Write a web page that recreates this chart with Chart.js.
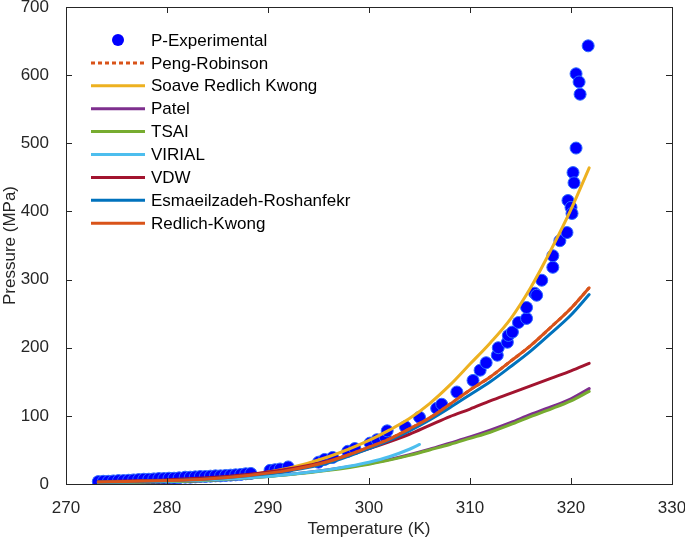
<!DOCTYPE html>
<html>
<head>
<meta charset="utf-8">
<script src="https://cdn.jsdelivr.net/npm/chart.js@4.4.1/dist/chart.umd.min.js"></script>
<style>
html,body{margin:0;padding:0;background:#fff;}
#wrap{width:685px;height:543px;position:relative;}
</style>
</head>
<body>
<div id="wrap"><canvas id="c" width="685" height="543"></canvas></div>
<script>
// ---- Data ----
const expT = [273.2,273.7,274.2,274.7,275.2,275.7,276.2,276.7,277.2,277.7,278.2,278.7,279.2,279.7,280.2,280.7,281.2,281.8,282.3,282.8,283.3,283.8,284.3,284.8,285.3,285.8,286.3,286.8,287.3,287.8,288.3,
  290.2,290.7,291.2,292.0,295.0,295.6,296.4,297.9,298.6,300.1,300.8,301.6,301.8,303.6,305.0,306.7,307.2,308.7,310.3,311.0,311.6,312.7,312.8,313.7,313.8,314.2,314.8,315.6,315.6,316.4,316.6,317.1,318.2,318.2,318.9,319.6,319.7,320.0,320.1,320.2,320.3,320.5,320.5,320.8,320.9,321.7];
const expP = [3.5,4,4,4.5,5,5,5.5,6,6.5,7,7,7.5,8,8,8.5,8.5,9,10,10,10.5,11,11,11.5,12,12,12.5,13,13.5,14,15,15.5,
  20,21,22,25,32,36,39,48,52,60,65,69,78,84,98,111,117,135,152,167,178,189,200,208,218,223,237,243,259,280,277,299,318,335,357,369,416,406,397,457,442,493,602,590,572,643];

const modelT = [273.2,276,280,284,288,292,296,300,302,304,306,308,310,312,314,316,318,320,321.8];
const pengRobinson = [3,3.5,5,7.5,12.5,20,33,54,66,81,97,117,138,157,180,203,230,258,288];
const soaveRK      = [3,3.5,5,8,13,23,40,64,79,96,118,145,176,207,242,288,343,403,464];
const patel        = [2,2.6,3.5,5.5,9,14,21,30,36,43,51,60,69,79,90,102,113,125,140];
const tsai         = [2,2.5,3.4,5.3,8.7,13.5,20,29,35,42,50,58,67,76,87,99,110,122,136];
const vdw          = [3.5,4.5,6,9,14,22,34,52,62,73,86,99,110,122,133,144,155,166,177];
const esmaeilzadeh = [3,3.4,4.8,7.3,12,19,31,52,64,78,94,112,131,150,172,195,221,248,278];
const redlichKwong = [3,3.5,5,7.5,12.5,20,33,54,66,81,97,117,138,157,180,203,230,258,288];

const virialT = [273.2,276,280,284,288,292,296,298,300,302,304,305];
const virial  = [2.5,3,4,6,9,14,21,26,32,40,51,58];

const xTicks = [270,280,290,300,310,320,330];
const yTicks = [0,100,200,300,400,500,600,700];

// ---- helpers ----
const pts = (xs, ys) => xs.map((x, i) => ({x: x, y: ys[i]}));
const FONT = '"Liberation Sans", Arial, Helvetica, sans-serif';

function lineDs(label, xs, ys, color, order, dash) {
  return {
    label, data: pts(xs, ys), showLine: true, borderColor: color, backgroundColor: color,
    borderWidth: 3, pointRadius: 0, cubicInterpolationMode: 'monotone', order,
    borderDash: dash || [], borderCapStyle: dash ? 'butt' : 'round'
  };
}

const datasets = [
  {label: 'P-Experimental', data: pts(expT, expP), showLine: false, pointRadius: 6,
   pointBackgroundColor: '#0000ff', pointBorderColor: '#2e6bff', pointBorderWidth: 1,
   backgroundColor: '#0000ff', borderColor: '#0000ff', order: 10},
  lineDs('Peng-Robinson', modelT, pengRobinson, '#D95319', 9, [4, 3]),
  lineDs('Soave Redlich Kwong', modelT, soaveRK, '#EDB120', 8),
  lineDs('Patel', modelT, patel, '#7E2F8E', 7),
  lineDs('TSAI', modelT, tsai, '#77AC30', 6),
  lineDs('VIRIAL', virialT, virial, '#4DBEEE', 5),
  lineDs('VDW', modelT, vdw, '#A2142F', 4),
  lineDs('Esmaeilzadeh-Roshanfekr', modelT, esmaeilzadeh, '#0072BD', 3),
  lineDs('Redlich-Kwong', modelT, redlichKwong, '#D95319', 2)
];

const framePlugin = {
  id: 'frame',
  afterDraw(chart) {
    const {ctx, chartArea: a, scales: {x, y}} = chart;
    ctx.save();
    ctx.strokeStyle = '#262626';
    ctx.lineWidth = 1;
    ctx.strokeRect(Math.round(a.left) + 0.5, Math.round(a.top) + 0.5,
                   Math.round(a.right - a.left), Math.round(a.bottom - a.top));
    const L = 6;
    ctx.beginPath();
    xTicks.forEach(v => {
      const px = Math.round(x.getPixelForValue(v)) + 0.5;
      ctx.moveTo(px, a.bottom); ctx.lineTo(px, a.bottom - L);
      ctx.moveTo(px, a.top); ctx.lineTo(px, a.top + L);
    });
    yTicks.forEach(v => {
      const py = Math.round(y.getPixelForValue(v)) + 0.5;
      ctx.moveTo(a.left, py); ctx.lineTo(a.left + L, py);
      ctx.moveTo(a.right, py); ctx.lineTo(a.right - L, py);
    });
    ctx.stroke();
    ctx.restore();
  }
};

const legendPlugin = {
  id: 'insideLegend',
  afterDatasetsDraw(chart) {
    const ctx = chart.ctx;
    const x0 = 91, x1 = 145, tx = 151, y0 = 40, dy = 22.9;
    ctx.save();
    ctx.font = '17px ' + FONT;
    ctx.textBaseline = 'middle';
    ctx.fillStyle = '#000';
    chart.data.datasets.forEach((ds, i) => {
      const yy = y0 + i * dy;
      if (!ds.showLine) {
        ctx.beginPath();
        ctx.arc(118, yy, 6, 0, Math.PI * 2);
        ctx.fillStyle = ds.pointBackgroundColor;
        ctx.fill();
      } else {
        ctx.beginPath();
        ctx.strokeStyle = ds.borderColor;
        ctx.lineWidth = 3;
        ctx.setLineDash(ds.borderDash || []);
        ctx.lineCap = 'butt';
        ctx.moveTo(x0, yy); ctx.lineTo(x1, yy);
        ctx.stroke();
        ctx.setLineDash([]);
      }
      ctx.fillStyle = '#000';
      ctx.fillText(ds.label, tx, yy + 1);
    });
    ctx.restore();
  }
};

new Chart(document.getElementById('c'), {
  type: 'scatter',
  data: {datasets},
  plugins: [framePlugin, legendPlugin],
  options: {
    responsive: false,
    animation: false,
    devicePixelRatio: 1,
    layout: {padding: {top: 6, right: 13, left: 0, bottom: 0}},
    plugins: {legend: {display: false}, tooltip: {enabled: false}},
    scales: {
      x: {
        type: 'linear', min: 270, max: 330,
        afterBuildTicks: s => { s.ticks = xTicks.map(v => ({value: v})); },
        ticks: {font: {size: 17, family: FONT}, color: '#262626', padding: 6},
        grid: {display: false}, border: {display: false},
        title: {display: true, text: 'Temperature (K)', font: {size: 17, family: FONT}, color: '#262626', padding: {top: 2, bottom: 3}},
        afterFit: s => { s.height = 59; s.paddingLeft = 0; s.paddingRight = 0; }
      },
      y: {
        type: 'linear', min: 0, max: 700,
        afterBuildTicks: s => { s.ticks = yTicks.map(v => ({value: v})); },
        ticks: {font: {size: 17, family: FONT}, color: '#262626', padding: 9},
        grid: {display: false}, border: {display: false},
        title: {display: true, text: 'Pressure (MPa)', font: {size: 17, family: FONT}, color: '#262626', padding: {top: 0, bottom: 2}},
        afterFit: s => { s.width = 66; s.paddingTop = 0; s.paddingBottom = 0; }
      }
    }
  }
});
</script>
</body>
</html>
